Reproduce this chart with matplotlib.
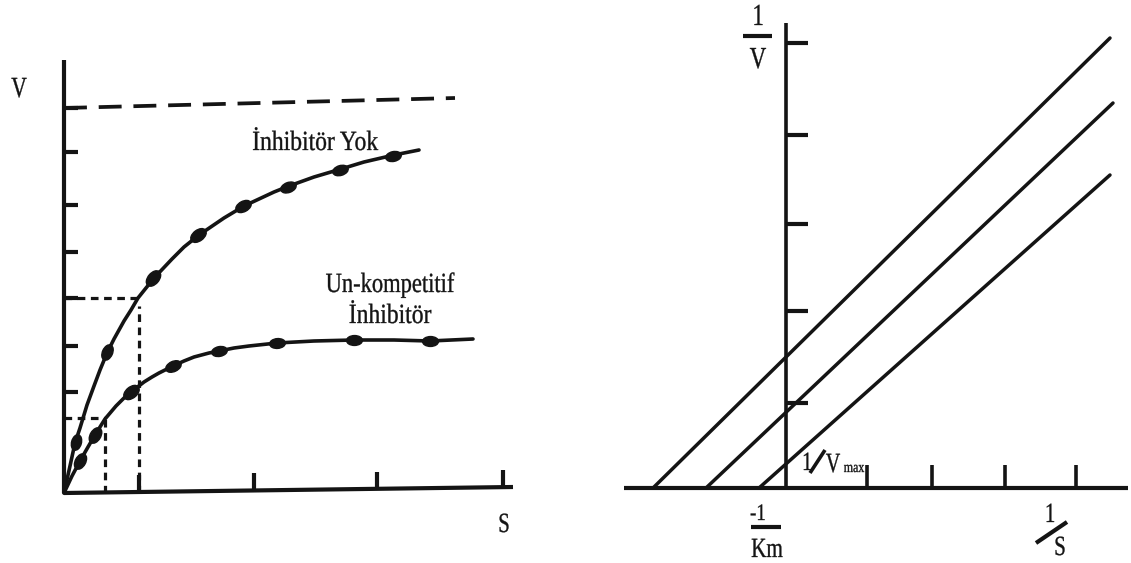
import numpy as np
import matplotlib
matplotlib.use("Agg")
import matplotlib.pyplot as plt
from matplotlib.path import Path
from matplotlib.markers import MarkerStyle
from matplotlib.transforms import Affine2D
from matplotlib.patheffects import AbstractPathEffect

plt.rcParams['font.family'] = ['Liberation Serif', 'DejaVu Serif']
plt.rcParams['lines.scale_dashes'] = False

INK = '#141414'

# ---------------- Michaelis-Menten panel (S vs V) ----------------
# no inhibitor: smooth curve and measured points
curve_free_s = [0, 2, 6, 11, 16, 23, 30, 36, 43, 50, 60, 67, 74, 82, 91, 108, 120, 135,
                160, 180, 210, 225, 250, 277, 300, 330, 355]
curve_free_v = [0, 9, 27, 50, 65, 88, 107, 123, 140, 154, 172, 183, 195, 205, 216, 234, 246, 258,
                275, 287, 301, 307, 316, 324, 331, 338, 343]
dots_free_s = [12, 43, 89, 134, 179, 224, 276, 329]
dots_free_v = [51, 141, 215, 258, 287, 306, 323, 337]

# uncompetitive inhibitor: smooth curve and measured points
curve_unc_s = [0, 8, 16, 24, 31, 41, 52, 60, 67, 80, 88, 95, 109, 120, 130, 145, 155, 170,
               185, 213, 250, 290, 330, 366, 409]
curve_unc_v = [0, 17, 32, 46, 58, 74, 87, 95, 101, 111, 116, 120, 127, 132, 136, 140, 142, 145,
               147, 150, 152, 153, 153, 152, 154]
dots_unc_s = [16, 31, 67, 109, 155, 213, 290, 366]
dots_unc_v = [32, 58, 101, 127, 142, 150, 153, 152]

# Vmax asymptote and half-Vmax guides
vmax_line_s = [0, 391]
vmax_line_v = [385, 395]
half_free = (75, 195)   # (Km, Vmax/2) without inhibitor
half_unc = (41, 75)     # (Km', V'max/2) with inhibitor

mm_yticks = [101, 147, 195, 241, 288, 341, 385]
mm_xticks = [75, 190, 313, 439]
mm_xaxis_end = (449, 6)
mm_yaxis_top = 433

# ---------------- Lineweaver-Burk panel (1/S vs 1/V) ----------------
lb_x_intercepts = [-133, -80, -27]
lb_end_x = [324, 327, 324]
lb_end_y = [450, 385, 313]
lb_xaxis = (-162, 342)
lb_yaxis_top = 465
lb_xticks = [81, 146, 219, 290]
lb_yticks = [85, 177, 264, 353, 445]


class Squeeze(AbstractPathEffect):
    """Draw text glyphs horizontally condensed around their centre, lightly stroked."""

    def __init__(self, sx=0.8, stroke=0.25):
        super().__init__()
        self._sx = sx
        self._stroke = stroke

    def draw_path(self, renderer, gc, tpath, affine, rgbFace=None):
        ext = tpath.get_extents()
        cx = 0.5 * (ext.x0 + ext.x1)
        t = Affine2D().translate(-cx, 0).scale(self._sx, 1).translate(cx, 0) + affine
        gc0 = renderer.new_gc()
        gc0.copy_properties(gc)
        gc0.set_linewidth(self._stroke)
        gc0.set_foreground(rgbFace if rgbFace is not None else gc.get_rgb())
        gc0.set_joinstyle('round')
        renderer.draw_path(gc0, tpath, t, rgbFace)
        gc0.restore()


def label(ax, x, y, s, size, sx=0.8):
    ax.text(x, y, s, fontsize=size, ha='center', va='baseline', color=INK,
            path_effects=[Squeeze(sx)], clip_on=False)


def ellipse_marker(angle_deg):
    circ = Path.unit_circle()
    verts = circ.vertices * np.array([1.0, 0.62])
    rot = Affine2D().rotate_deg(angle_deg)
    return MarkerStyle(Path(rot.transform(verts), circ.codes))


def draw_dots(ax, cs, cv, ds, dv):
    cs = np.asarray(cs, float)
    cv = np.asarray(cv, float)
    slope = np.gradient(cv, cs)
    for s, v in zip(ds, dv):
        ang = np.degrees(np.arctan(np.interp(s, cs, slope)))
        ax.plot([s], [v], marker=ellipse_marker(ang), markersize=11.5,
                color=INK, linestyle='none', clip_on=False)


fig = plt.figure(figsize=(11.31, 5.63), dpi=100)
fig.patch.set_facecolor('white')

ax1 = fig.add_axes([0, 0, 565 / 1131, 1])
ax1.set_xlim(-64, 501)
ax1.set_ylim(-70, 493)
ax1.axis('off')

ax2 = fig.add_axes([565 / 1131, 0, 566 / 1131, 1])
ax2.set_xlim(-221, 345)
ax2.set_ylim(-75, 488)
ax2.axis('off')

# ---- left panel ----
AX_LW = 3.0
ax1.plot([0, 0], [0, mm_yaxis_top], color=INK, lw=AX_LW, solid_capstyle='butt')
ax1.plot([0, mm_xaxis_end[0]], [0, mm_xaxis_end[1]], color=INK, lw=AX_LW, solid_capstyle='butt')
for yt in mm_yticks:
    ax1.plot([0, 14], [yt, yt], color=INK, lw=AX_LW, solid_capstyle='butt')
for xt in mm_xticks:
    base = mm_xaxis_end[1] * xt / mm_xaxis_end[0]
    ax1.plot([xt, xt], [base, base + 17], color=INK, lw=AX_LW, solid_capstyle='butt')

ax1.plot(vmax_line_s, vmax_line_v, color=INK, lw=2.7, linestyle=(0, (16.5, 8.5)),
         solid_capstyle='butt', dash_capstyle='butt')

dot_style = dict(color=INK, lw=2.3, linestyle=(0, (5.5, 4.0)), dash_capstyle='butt')
ax1.plot([0, half_free[0]], [half_free[1], half_free[1]], **dot_style)
ax1.plot([half_free[0], half_free[0]], [0, half_free[1] - 8], **dot_style)
ax1.plot([0, half_unc[0]], [half_unc[1], half_unc[1]], **dot_style)
ax1.plot([half_unc[0], half_unc[0]], [0, half_unc[1]], **dot_style)

ax1.plot(curve_free_s, curve_free_v, color=INK, lw=2.6, solid_joinstyle='round',
         solid_capstyle='round')
ax1.plot(curve_unc_s, curve_unc_v, color=INK, lw=2.6, solid_joinstyle='round',
         solid_capstyle='round')
draw_dots(ax1, curve_free_s, curve_free_v, dots_free_s, dots_free_v)
draw_dots(ax1, curve_unc_s, curve_unc_v, dots_unc_s, dots_unc_v)

label(ax1, -45, 396, 'V', 21, 0.74)
label(ax1, 440, -39, 'S', 20, 0.74)
label(ax1, 251, 343, 'İnhibitör Yok', 20, 0.85)
label(ax1, 326, 201, 'Un-kompetitif', 20, 0.81)
label(ax1, 326, 170, 'İnhibitör', 20, 0.85)

# ---- right panel ----
ax2.plot([0, 0], [0, lb_yaxis_top], color=INK, lw=2.6, solid_capstyle='butt')
ax2.plot(list(lb_xaxis), [0, 0], color=INK, lw=AX_LW, solid_capstyle='butt')
for yt in lb_yticks:
    ax2.plot([0, 22], [yt, yt], color=INK, lw=AX_LW, solid_capstyle='butt')
for xt in lb_xticks:
    ax2.plot([xt, xt], [0, 23], color=INK, lw=2.6, solid_capstyle='butt')

for x0, x1, y1 in zip(lb_x_intercepts, lb_end_x, lb_end_y):
    ax2.plot([x0, x1], [0, y1], color=INK, lw=2.5, solid_capstyle='round')

# 1/V label
label(ax2, -28, 463, '1', 22, 0.75)
ax2.plot([-43, -14], [452, 452], color=INK, lw=3.0, solid_capstyle='butt')
label(ax2, -28, 420, 'V', 22, 0.75)

# -1/Km label
label(ax2, -28, -32, '-1', 17, 0.8)
ax2.plot([-35, -5], [-39, -39], color=INK, lw=3.0, solid_capstyle='butt')
label(ax2, -19, -69, 'Km', 20, 0.76)

# 1/S label
label(ax2, 264, -34, '1', 20, 0.75)
ax2.plot([250, 281], [-55, -34], color=INK, lw=3.0, solid_capstyle='butt')
label(ax2, 274, -67, 'S', 20, 0.75)

# 1/Vmax label
label(ax2, 21, 18, '1', 19, 0.75)
ax2.plot([24, 39], [15, 38], color=INK, lw=2.6, solid_capstyle='butt')
label(ax2, 47, 16, 'V', 20, 0.72)
label(ax2, 68, 16, 'max', 11, 0.78)

fig.savefig('out.png', dpi=100, facecolor='white')
